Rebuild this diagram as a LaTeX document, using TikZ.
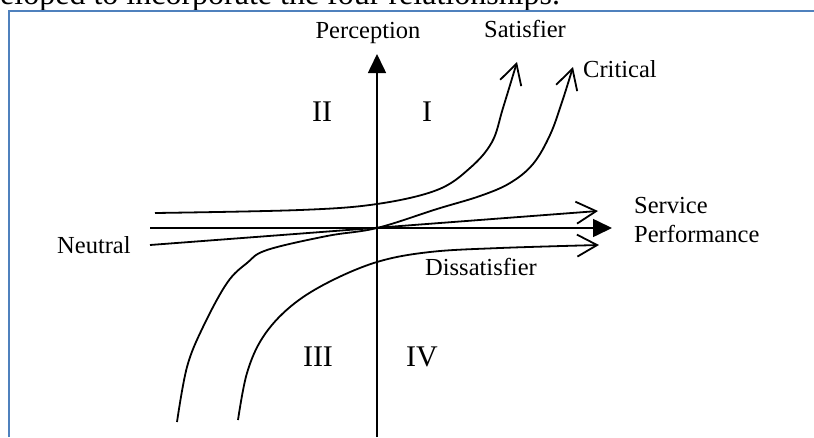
\documentclass[tikz,border=0pt]{standalone}
\usepackage{fontspec}
\setmainfont{Liberation Serif}
\usetikzlibrary{arrows.meta}
\definecolor{frameblue}{HTML}{4F81BD}

\begin{document}
\begin{tikzpicture}[x=1pt,y=-1pt,
  lbl/.style={inner sep=0pt,font=\fontsize{24.5}{29}\selectfont},
  quad/.style={inner sep=0pt,anchor=center,font=\fontsize{30}{36}\selectfont},
  axis/.style={line width=1.6pt,-{Triangle[length=19pt,width=18pt]}},
  curve/.style={line width=1.8pt,-{Straight Barb[length=20pt,width=22pt]}}]
  \useasboundingbox (0,0) rectangle (814,437);
  \clip (0,0) rectangle (814,437);
  % page text and frame
  \node[lbl,font=\fontsize{32}{38}\selectfont,anchor=base west] (body) at (0,4)
       {eloped to incorporate the four relationships.};
  \draw[frameblue,line width=2.5pt] (9,437) |- (814,11);
  % axes
  \coordinate (O) at (377,228);
  \coordinate (xl) at (150,228);
  \coordinate (xr) at (612,228);
  \coordinate (yb) at (377,437);
  \coordinate (yt) at (377,54);
  \draw[axis] (xl) -- (xr);
  \draw[axis] (yb) -- (yt);
  % curve ends
  \coordinate (sat0) at (155,213);
  \coordinate (sat1) at (517,62);
  \coordinate (crit0) at (177,422);
  \coordinate (crit1) at (573,67);
  \coordinate (neu0) at (150,245);
  \coordinate (neu1) at (598,211);
  \coordinate (dis0) at (238,420);
  \coordinate (dis1) at (599,245);
  % curves
  \draw[curve] plot[smooth,tension=0.6] coordinates {(sat0) (300,210) (O |- 0,204)
    (437,190) (470,168) (492,142) (503,108) (sat1)};
  \draw[curve] plot[smooth,tension=0.6] coordinates {(crit0) (187,367) (203,327)
    (227,283) (247,263) (267,250) (327,236) (O) (437,209) (480,196) (510,183)
    (533,164) (550,135) (562,102) (crit1)};
  \draw[curve] (neu0) -- (neu1);
  \draw[curve] plot[smooth,tension=0.6] coordinates {(dis0) (247,373) (263,337)
    (290,307) (327,283) (377,262) (430,252) (500,248) (dis1)};
  % labels
  \node[lbl,anchor=base] (perc) at (368,38) {Perception};
  \node[lbl,anchor=base west] (satl) at (484,37) {Satisfier};
  \node[lbl,anchor=base west] (critl) at (583,77) {Critical};
  \node[lbl,anchor=base west] (svc) at (634,213) {Service};
  \node[lbl,anchor=base west] (perf) at (634,242) {Performance};
  \node[lbl,anchor=base west] (neul) at (57,253) {Neutral};
  \node[lbl,anchor=base east] (disl) at (537,275) {Dissatisfier};
  \node[quad] (qII) at (322,112) {II};
  \node[quad] (qI) at (427,112) {I};
  \node[quad] (qIII) at (318,357) {III};
  \node[quad] (qIV) at (422,357) {IV};
\end{tikzpicture}
\end{document}
